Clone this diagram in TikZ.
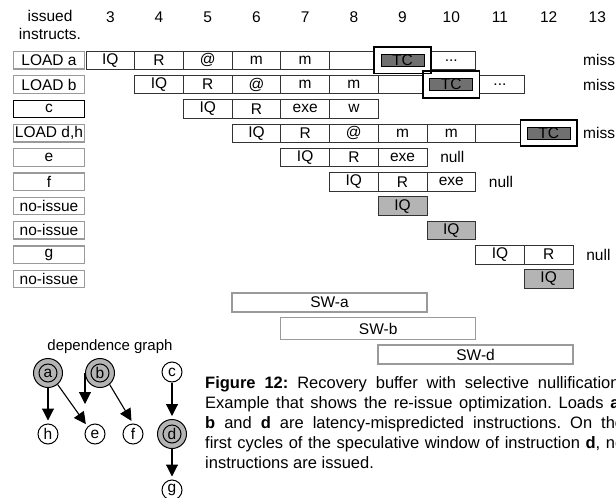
\documentclass[tikz,border=0pt]{standalone}
\usepackage{fontspec}
\setmainfont{Liberation Sans}
\usetikzlibrary{arrows.meta,calc}
\definecolor{cNoIss}{HTML}{B4B4B4}
\definecolor{cTC}{HTML}{707070}
\definecolor{cFrame}{HTML}{9A9A9A}
\tikzset{
  declare function={cx(\x)=110.35+(\x-3)*48.7; ry(\y)=60.25+24.3*\y;},
  txt/.style    ={font=\fontsize{15.5}{18}\selectfont, inner sep=0pt},
  cell/.style   ={rectangle, draw=black!80, line width=0.7pt, txt,
                  minimum width=48.7pt, minimum height=18.5pt},
  noiss/.style  ={cell, fill=cNoIss},
  lbl/.style    ={rectangle, draw=cFrame, line width=1.3pt, txt,
                  minimum width=71pt, minimum height=17.5pt},
  tcbox/.style  ={rectangle, fill=white, inner sep=0pt,
                  minimum width=56pt, minimum height=26pt},
  tcframe/.style={draw=black, line width=1.8pt},
  tcin/.style   ={rectangle, draw=black, line width=0.8pt, fill=cTC, txt,
                  minimum width=43pt, minimum height=12pt},
  swin/.style   ={rectangle, draw=cFrame, line width=1.3pt, txt,
                  minimum width=195pt, minimum height=19pt},
  gnode/.style  ={circle, draw=black, line width=1pt, fill=white, txt,
                  minimum size=20pt},
  gdbl/.style   ={circle, draw=black, line width=1pt, fill=cNoIss, txt,
                  minimum size=29pt,
                  path picture={\draw[line width=1pt]
                    (path picture bounding box.center) circle (9pt);}},
  arr/.style    ={-{Triangle[length=12pt,width=12pt]}, line width=1.1pt,
                  shorten >=3pt},
}
\begin{document}
\begin{tikzpicture}[x=1pt,y=-1pt]
  \useasboundingbox (0,0) rectangle (616,498);
  % header
  \node[txt,align=center,anchor=north] (iss) at (50,10.5) {issued\\instructs.};
  \foreach \col in {3,...,13}
    \node[txt,anchor=base] (n\col) at ({cx(\col)},22) {\col};
  % LOAD a
  \node[lbl] (la) at (49,{ry(0)}) {LOAD a};
  \foreach \lab [count=\col from 3] in {IQ,R,@,m,m,{}}
    \node[cell] (ra\col) at ({cx(\col)},{ry(0)}) {\lab};
  \node[cell] (ra10) at ({cx(10)},{ry(0)}) {...};
  \node[tcbox] (tca) at ({cx(9)},{ry(0)}) {};
  \node[txt,anchor=west] (ma) at (583,{ry(0)}) {miss};
  % LOAD b
  \node[lbl] (lb) at (49,{ry(1)}) {LOAD b};
  \foreach \lab [count=\col from 4] in {IQ,R,@,m,m,{}}
    \node[cell] (rb\col) at ({cx(\col)},{ry(1)}) {\lab};
  \node[cell] (rb11) at ({cx(11)},{ry(1)}) {...};
  \node[tcbox] (tcb) at ({cx(10)},{ry(1)}) {};
  \node[txt,anchor=west] (mb) at (583,{ry(1)}) {miss};
  % c
  \node[lbl,draw=black,line width=0.8pt] (lc) at (49,{ry(2)}) {c};
  \foreach \lab [count=\col from 5] in {IQ,R,exe,w}
    \node[cell] (rc\col) at ({cx(\col)},{ry(2)}) {\lab};
  % LOAD d,h
  \node[lbl] (ld) at (49,{ry(3)}) {LOAD d,h};
  \foreach \lab [count=\col from 6] in {IQ,R,@,m,m,{}}
    \node[cell] (rd\col) at ({cx(\col)},{ry(3)}) {\lab};
  \node[tcbox] (tcd) at ({cx(12)},{ry(3)}) {};
  \node[txt,anchor=west] (md) at (583,{ry(3)}) {miss};
  % TC frames
  \foreach \n in {tca,tcb,tcd}{
    \draw[tcframe] (\n.north west) rectangle (\n.south east);
    \node[tcin] (\n in) at (\n) {TC};
  }
  % e, f
  \node[lbl] (le) at (49,{ry(4)}) {e};
  \foreach \lab [count=\col from 7] in {IQ,R,exe}
    \node[cell] (re\col) at ({cx(\col)},{ry(4)}) {\lab};
  \node[txt,anchor=west] (nle) at ({cx(9)+37.5},{ry(4)}) {null};
  \node[lbl] (lf) at (49,{ry(5)}) {f};
  \foreach \lab [count=\col from 8] in {IQ,R,exe}
    \node[cell] (rf\col) at ({cx(\col)},{ry(5)}) {\lab};
  \node[txt,anchor=west] (nlf) at ({cx(10)+37.5},{ry(5)}) {null};
  % no-issue, g
  \node[lbl] (ln1) at (49,{ry(6)}) {no-issue};
  \node[noiss] (rn1) at ({cx(9)},{ry(6)}) {IQ};
  \node[lbl] (ln2) at (49,{ry(7)}) {no-issue};
  \node[noiss] (rn2) at ({cx(10)},{ry(7)}) {IQ};
  \node[lbl] (lg) at (49,{ry(8)}) {g};
  \foreach \lab [count=\col from 11] in {IQ,R}
    \node[cell] (rg\col) at ({cx(\col)},{ry(8)}) {\lab};
  \node[txt,anchor=west] (nlg) at ({cx(12)+37.5},{ry(8)}) {null};
  \node[lbl] (ln3) at (49,{ry(9)}) {no-issue};
  \node[noiss] (rn3) at ({cx(12)},{ry(9)}) {IQ};
  % speculative windows
  \node[swin] (swa) at ({(cx(6)+cx(9))/2},302.5) {SW-a};
  \node[swin,minimum height=22pt] (swb) at ({(cx(7)+cx(10))/2},328.5) {SW-b};
  \node[swin] (swd) at ({(cx(9)+cx(12))/2},354.5) {SW-d};
  % dependence graph
  \node[txt,font=\fontsize{15}{18}\selectfont] (dg) at (110,347) {dependence graph};
  \node[gdbl] (a) at (48,373) {a};
  \node[gdbl] (b) at (100,373) {b};
  \node[gnode] (c) at (172,372) {c};
  \node[gnode] (h) at (48,434) {h};
  \node[gnode] (e) at (95,434) {e};
  \node[gnode] (f) at (133,434) {f};
  \node[gdbl] (d) at (172,434) {d};
  \node[gnode] (g) at (172,490) {g};
  \coordinate (bdn) at ($(b.west)+(0,34)$);
  \draw[arr] (a) -- (h);
  \draw[arr] (a.-50) -- (e.north west);
  \draw[arr] (b.west) -- (bdn);
  \draw[arr] (b.-50) -- (f.north);
  \draw[arr] (c) -- (d);
  \draw[arr] (d) -- (g);
  % caption
  \node[anchor=north west, inner sep=0pt, text width=419pt, align=justify,
        font=\fontsize{16.5}{20}\selectfont\frenchspacing] (cap) at (205,376)
    {\textbf{Figure 12:} Recovery buffer with selective nullification.\linebreak
     Example that shows the re-issue optimization. Loads \textbf{a},\linebreak
     \textbf{b} and \textbf{d} are latency-mispredicted instructions. On the\linebreak
     first cycles of the speculative window of instruction \textbf{d}, no\linebreak
     instructions are issued.};
\end{tikzpicture}
\end{document}
